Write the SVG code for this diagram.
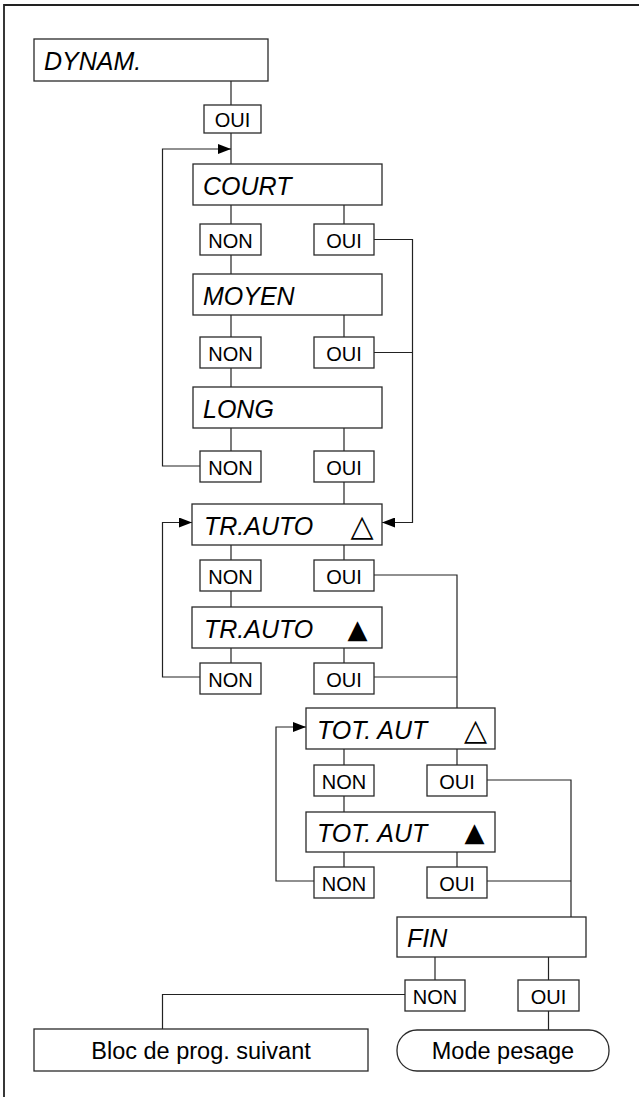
<svg xmlns="http://www.w3.org/2000/svg" width="639" height="1097" viewBox="0 0 639 1097">
<style>
.bx{fill:#fff;stroke:#2a2a2a;stroke-width:1.3}
.ln{fill:none;stroke:#222;stroke-width:1.2}
.it{font-family:"Liberation Sans",Arial,sans-serif;font-style:italic;font-size:25px;fill:#000}
.op{font-family:"Liberation Sans",Arial,sans-serif;font-size:20px;fill:#000;text-anchor:middle}
.big{font-family:"Liberation Sans",Arial,sans-serif;font-size:23.5px;fill:#000;text-anchor:middle}
.tri{font-family:"DejaVu Sans",sans-serif;font-size:26px;fill:#000;text-anchor:middle}
.tro{font-family:"DejaVu Sans",sans-serif;font-size:30px;fill:#000;text-anchor:middle}
</style>
<defs>
<marker id="arr" markerWidth="13" markerHeight="10" refX="13" refY="5" orient="auto" markerUnits="userSpaceOnUse"><path d="M0,0 L13,5 L0,10 z" fill="#000"/></marker>
</defs>
<g id="frame"><path d="M639,5 H4 V1097" fill="none" stroke="#222" stroke-width="1.8"/></g>
<g id="connectors" class="ln">
<path d="M231,81 V105"/>
<path d="M231,133 V164"/>
<path d="M200,466 H162.5 V149 H231" marker-end="url(#arr)"/>
<path d="M231,205 V224"/><path d="M344,205 V224"/>
<path d="M231,255 V274"/>
<path d="M374,239.5 H412.5 V522.5 H382" marker-end="url(#arr)"/>
<path d="M231,315 V337"/><path d="M344,315 V337"/>
<path d="M374,352.5 H412.5"/>
<path d="M231,368 V387"/>
<path d="M231,428 V451"/><path d="M344,428 V451"/>
<path d="M344,482 V504"/>
<path d="M200,677 H162.5 V522.5 H192" marker-end="url(#arr)"/>
<path d="M231,545 V560"/><path d="M344,545 V560"/>
<path d="M231,591 V607"/>
<path d="M231,648 V663"/><path d="M344,648 V663"/>
<path d="M374,575 H457 V708"/>
<path d="M374,677 H457"/>
<path d="M314,881 H276 V727 H306" marker-end="url(#arr)"/>
<path d="M344,749 V765"/><path d="M457,749 V765"/>
<path d="M344,796 V812"/>
<path d="M344,852 V867"/><path d="M457,852 V867"/>
<path d="M487,780 H571 V917"/>
<path d="M487,881 H571"/>
<path d="M435,957 V980"/><path d="M548.5,957 V980"/>
<path d="M405,994.5 H162.5 V1029"/>
<path d="M548.5,1011 V1030"/>
</g>
<g id="dynam"><rect class="bx" x="34" y="39" width="234" height="42"/><text class="it" x="44" y="70">DYNAM.</text></g>
<g id="dynam-oui"><rect class="bx" x="204" y="105" width="57" height="28"/><text class="op" x="232.5" y="126.5">OUI</text></g>
<g id="court"><rect class="bx" x="193" y="164" width="189" height="41"/><text class="it" x="203" y="195">COURT</text></g>
<g id="court-non"><rect class="bx" x="200" y="224" width="61" height="31"/><text class="op" x="230.5" y="247.5">NON</text></g>
<g id="court-oui"><rect class="bx" x="314" y="224" width="60" height="31"/><text class="op" x="344" y="247.5">OUI</text></g>
<g id="moyen"><rect class="bx" x="193" y="274" width="189" height="41"/><text class="it" x="203" y="305">MOYEN</text></g>
<g id="moyen-non"><rect class="bx" x="200" y="337" width="61" height="31"/><text class="op" x="230.5" y="360.5">NON</text></g>
<g id="moyen-oui"><rect class="bx" x="314" y="337" width="60" height="31"/><text class="op" x="344" y="360.5">OUI</text></g>
<g id="long"><rect class="bx" x="193" y="387" width="189" height="41"/><text class="it" x="203" y="418">LONG</text></g>
<g id="long-non"><rect class="bx" x="200" y="451" width="61" height="31"/><text class="op" x="230.5" y="474.5">NON</text></g>
<g id="long-oui"><rect class="bx" x="314" y="451" width="60" height="31"/><text class="op" x="344" y="474.5">OUI</text></g>
<g id="trauto1"><rect class="bx" x="192" y="504" width="190" height="41"/><text class="it" x="204" y="535">TR.AUTO</text><text class="tro" x="362" y="536">△</text></g>
<g id="trauto1-non"><rect class="bx" x="200" y="560" width="61" height="31"/><text class="op" x="230.5" y="583.5">NON</text></g>
<g id="trauto1-oui"><rect class="bx" x="314" y="560" width="60" height="31"/><text class="op" x="344" y="583.5">OUI</text></g>
<g id="trauto2"><rect class="bx" x="192" y="607" width="190" height="41"/><text class="it" x="204" y="638">TR.AUTO</text><text class="tri" x="357.5" y="638">▲</text></g>
<g id="trauto2-non"><rect class="bx" x="200" y="663" width="61" height="31"/><text class="op" x="230.5" y="686.5">NON</text></g>
<g id="trauto2-oui"><rect class="bx" x="314" y="663" width="60" height="31"/><text class="op" x="344" y="686.5">OUI</text></g>
<g id="totaut1"><rect class="bx" x="306" y="708" width="189" height="41"/><text class="it" x="317" y="739">TOT. AUT</text><text class="tro" x="475.5" y="740">△</text></g>
<g id="totaut1-non"><rect class="bx" x="314" y="765" width="60" height="31"/><text class="op" x="344" y="788.5">NON</text></g>
<g id="totaut1-oui"><rect class="bx" x="427" y="765" width="60" height="31"/><text class="op" x="457" y="788.5">OUI</text></g>
<g id="totaut2"><rect class="bx" x="306" y="812" width="189" height="40"/><text class="it" x="317" y="842">TOT. AUT</text><text class="tri" x="474.5" y="841">▲</text></g>
<g id="totaut2-non"><rect class="bx" x="314" y="867" width="60" height="31"/><text class="op" x="344" y="890.5">NON</text></g>
<g id="totaut2-oui"><rect class="bx" x="427" y="867" width="60" height="31"/><text class="op" x="457" y="890.5">OUI</text></g>
<g id="fin"><rect class="bx" x="397" y="917" width="189" height="40"/><text class="it" x="407" y="947">FIN</text></g>
<g id="fin-non"><rect class="bx" x="405" y="980" width="60" height="31"/><text class="op" x="435" y="1003.5">NON</text></g>
<g id="fin-oui"><rect class="bx" x="518" y="980" width="61" height="31"/><text class="op" x="548.5" y="1003.5">OUI</text></g>
<g id="bloc"><rect class="bx" x="34" y="1029" width="334" height="42"/><text class="big" x="201" y="1059">Bloc de prog. suivant</text></g>
<g id="mode"><rect class="bx" x="397" y="1030" width="212" height="41" rx="20" ry="20"/><text class="big" x="503" y="1059">Mode pesage</text></g>
</svg>
